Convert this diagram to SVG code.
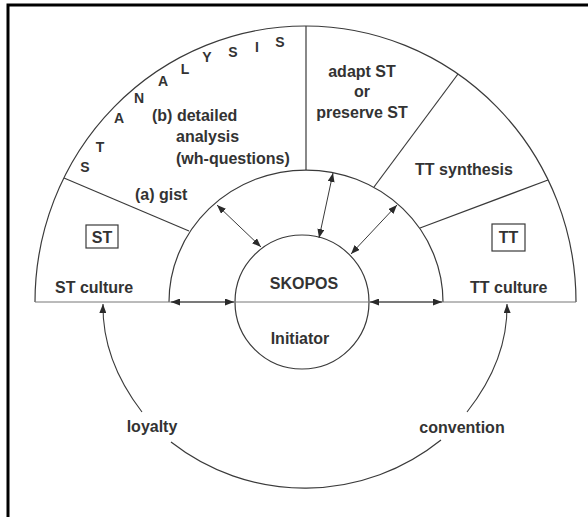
<svg xmlns="http://www.w3.org/2000/svg" width="588" height="517" viewBox="0 0 588 517">
<style>
text{font-family:"Liberation Sans",Arial,sans-serif;font-weight:bold;font-size:16px;fill:#333}
.l{font-size:14px;text-anchor:middle}
.m{text-anchor:middle}
.ln{fill:none;stroke:#3a3a3a;stroke-width:1.2}
.base{fill:none;stroke:#777;stroke-width:1}
.ar{fill:none;stroke:#3a3a3a;stroke-width:1.1;marker-end:url(#ah)}
.dar{fill:none;stroke:#3a3a3a;stroke-width:1;marker-start:url(#ah);marker-end:url(#ah)}
</style>
<defs>
<marker id="ah" viewBox="0 0 9 7" refX="9" refY="3.5" markerWidth="9" markerHeight="7" markerUnits="userSpaceOnUse" orient="auto-start-reverse">
<path d="M0,0 L9,3.5 L0,7 Z" fill="#2a2a2a"/>
</marker>
</defs>
<rect width="588" height="517" fill="#fff"/>
<g id="frame" fill="none" stroke="#000" stroke-width="3">
<path d="M8,517 V5 H588"/>
</g>
<g id="rings">
<path class="ln" d="M35,302 A270.5,276 0 0 1 576,302"/>
<path class="ln" d="M169,302 A137,132 0 0 1 443,302"/>
<ellipse class="ln" cx="302" cy="302" rx="67" ry="67"/>
<path class="base" d="M35,302 H576"/>
<path class="ln" d="M64,178 L189,231"/>
<path class="ln" d="M306,26 V170"/>
<path class="ln" d="M458,74 L374,187"/>
<path class="ln" d="M548,180 L420,228"/>
</g>
<g id="analysis">
<text class="l" x="85" y="172">S</text>
<text class="l" x="100" y="152">T</text>
<text class="l" x="119" y="123">A</text>
<text class="l" x="139" y="103">N</text>
<text class="l" x="163" y="86">A</text>
<text class="l" x="185" y="74">L</text>
<text class="l" x="207" y="62">Y</text>
<text class="l" x="233" y="57">S</text>
<text class="l" x="257" y="52">I</text>
<text class="l" x="280" y="47">S</text>
<text x="152" y="121">(b) detailed</text>
<text x="176" y="142">analysis</text>
<text x="176" y="164">(wh-questions)</text>
<text x="135" y="200">(a) gist</text>
</g>
<g id="st">
<rect x="86" y="225" width="32" height="23" fill="none" stroke="#3a3a3a" stroke-width="1.2"/>
<text class="m" x="102" y="243">ST</text>
<text x="55" y="293">ST culture</text>
</g>
<g id="adapt">
<text class="m" x="362" y="77">adapt ST</text>
<text class="m" x="362" y="97">or</text>
<text class="m" x="362" y="118">preserve ST</text>
</g>
<g id="synthesis">
<text class="m" x="464" y="175">TT synthesis</text>
</g>
<g id="tt">
<rect x="492" y="224" width="33" height="27" fill="none" stroke="#3a3a3a" stroke-width="1.2"/>
<text class="m" x="508.5" y="243">TT</text>
<text x="470" y="293">TT culture</text>
</g>
<g id="skopos">
<text class="m" x="304" y="289">SKOPOS</text>
<text class="m" x="300" y="344">Initiator</text>
</g>
<g id="connectors">
<path class="dar" d="M217,205 L261,247"/>
<path class="dar" d="M333,173 L319,238"/>
<path class="dar" d="M397,205 L351,254"/>
<path class="dar" d="M171,302 L234,302"/>
<path class="dar" d="M370,302 L442,302"/>
<path class="ar" d="M142,412 Q102,360 103,304"/>
<path class="ar" d="M467,412 Q508,360 507,304"/>
<path class="ln" d="M171,442 A217,217 0 0 0 441,440"/>
<text class="m" x="152" y="432">loyalty</text>
<text class="m" x="462" y="433">convention</text>
</g>
</svg>
